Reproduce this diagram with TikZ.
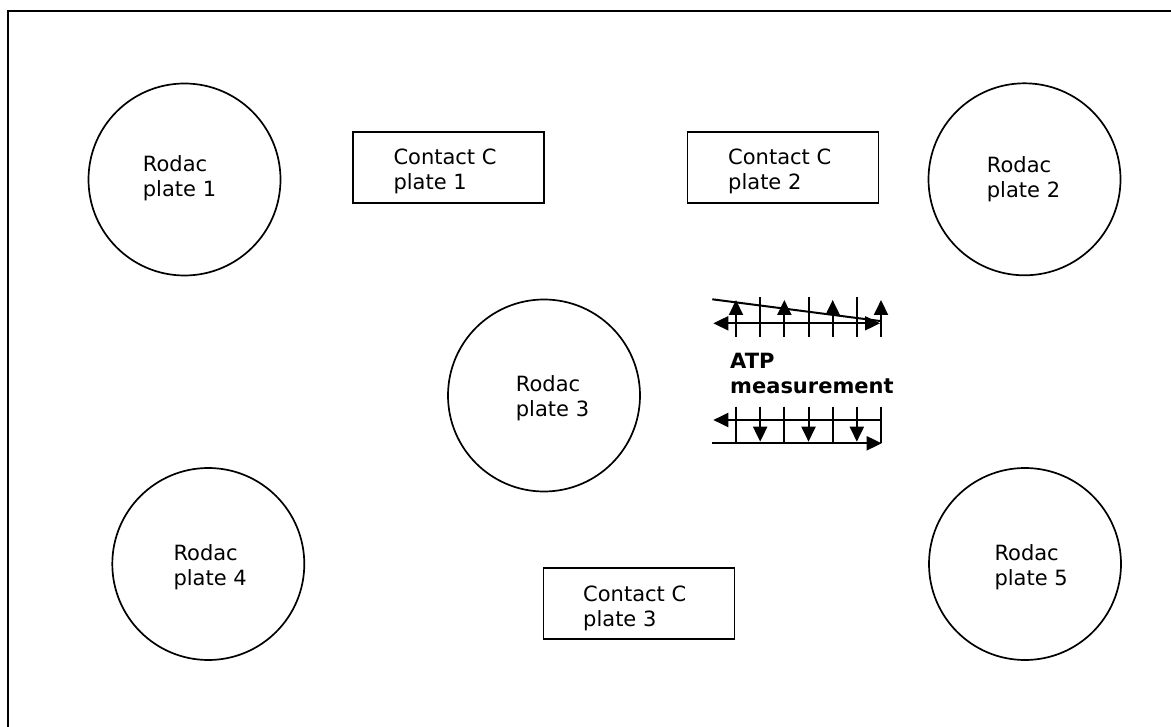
\documentclass[tikz,border=0pt]{standalone}
\usepackage{fontspec}
\setmainfont{DejaVu Sans}
\usetikzlibrary{arrows.meta}
\begin{document}
\begin{tikzpicture}[x=1pt,y=-1pt,
  plate/.style={circle,draw,line width=1.7pt,minimum size=192pt,inner sep=0pt},
  cbox/.style={draw,line width=1.7pt,minimum width=191pt,minimum height=71pt,inner sep=0pt},
  lbl/.style={anchor=base west,inner sep=0pt,font=\fontsize{21}{25}\selectfont},
  atp/.style={line width=2pt},
  arr/.style={-{Triangle[length=15pt,width=14pt]}},
  darr/.style={{Triangle[length=15pt,width=14pt]}-{Triangle[length=15pt,width=14pt]}}]
\useasboundingbox (0,0) rectangle (1171,727);
\clip (0,0) rectangle (1171,727);
% page frame (runs off the right and bottom)
\draw[line width=2pt] (8.3,11.5) rectangle (1190,745);

% Rodac plates
\node[plate] (r1) at (184.5,179.5) {};
\node[plate] (r2) at (1024.5,179.3) {};
\node[plate] (r3) at (544,395.5) {};
\node[plate] (r4) at (208.3,564) {};
\node[plate] (r5) at (1025,564) {};
\node[lbl] (t1) at (142.7,171.7) {\begin{tabular}[t]{@{}l@{}}Rodac\\plate 1\end{tabular}};
\node[lbl] (t2) at (986.7,172.7) {\begin{tabular}[t]{@{}l@{}}Rodac\\plate 2\end{tabular}};
\node[lbl] (t3) at (515.7,391.7) {\begin{tabular}[t]{@{}l@{}}Rodac\\plate 3\end{tabular}};
\node[lbl] (t4) at (173.3,560) {\begin{tabular}[t]{@{}l@{}}Rodac\\plate 4\end{tabular}};
\node[lbl] (t5) at (994.3,560) {\begin{tabular}[t]{@{}l@{}}Rodac\\plate 5\end{tabular}};

% Contact C plates
\node[cbox] (c1) at (448.5,167.5) {};
\node[cbox] (c2) at (783,167.5) {};
\node[cbox] (c3) at (639,603.5) {};
\node[lbl] (u1) at (393.3,165) {\begin{tabular}[t]{@{}l@{}}Contact C\\plate 1\end{tabular}};
\node[lbl] (u2) at (728,165) {\begin{tabular}[t]{@{}l@{}}Contact C\\plate 2\end{tabular}};
\node[lbl] (u3) at (583,601) {\begin{tabular}[t]{@{}l@{}}Contact C\\plate 3\end{tabular}};

% ATP measurement symbol: upper comb
\foreach \k in {0,2,4,6}
  \draw[atp,arr] (736+24.17*\k,336.7) -- (736+24.17*\k,300);
\foreach \k in {1,3,5}
  \draw[atp] (736+24.17*\k,336.7) -- (736+24.17*\k,297.3);
\draw[atp,darr] (713.3,323.3) -- (880,323.3);
\draw[atp] (712.3,299.3) -- (880,321);

\node[lbl,font=\fontsize{21}{25}\selectfont\bfseries] (atp) at (730,368.3)
  {\begin{tabular}[t]{@{}l@{}}ATP\\measurement\end{tabular}};

% lower comb
\draw[atp,arr] (881,420) -- (713.3,420);
\draw[atp,arr] (712.3,443.3) -- (881.7,443.3);
\foreach \k in {0,2,4,6}
  \draw[atp] (736+24.17*\k,406.7) -- (736+24.17*\k,443.3);
\foreach \k in {1,3,5}
  \draw[atp,arr] (736+24.17*\k,406.7) -- (736+24.17*\k,441.7);
\end{tikzpicture}
\end{document}
